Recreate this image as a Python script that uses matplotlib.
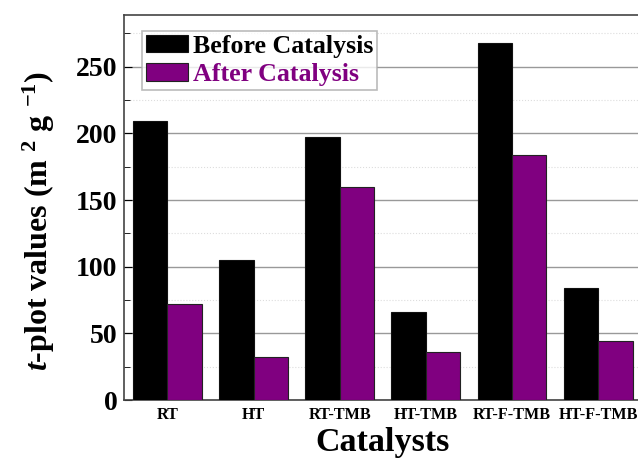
import numpy as np
import matplotlib
matplotlib.use('Agg')
import matplotlib.pyplot as plt
from matplotlib.ticker import MultipleLocator

catalysts = ['RT', 'HT', 'RT-TMB', 'HT-TMB', 'RT-F-TMB', 'HT-F-TMB']
before = [209, 105, 197, 66, 268, 84]
after = [72, 32, 160, 36, 184, 44]

plt.rcParams['font.family'] = 'Liberation Serif'
plt.rcParams['font.weight'] = 'bold'
plt.rcParams['mathtext.fontset'] = 'custom'
plt.rcParams['mathtext.rm'] = 'Liberation Serif:bold'
plt.rcParams['mathtext.it'] = 'Liberation Serif:bold:italic'
plt.rcParams['mathtext.bf'] = 'Liberation Serif:bold'

fig = plt.figure(figsize=(6.38, 4.63), dpi=100)
ax = fig.add_axes([0.195, 0.136, 0.81, 0.832])

x = np.arange(len(catalysts))
w = 0.4
ax.bar(x - w / 2, before, w, color='black', edgecolor='#111111', linewidth=0.8,
       label='Before Catalysis', zorder=3)
ax.bar(x + w / 2, after, w, color='#800080', edgecolor='#222222', linewidth=0.8,
       label='After Catalysis', zorder=3)

ax.set_xlim(-0.5, 5.5)
ax.set_ylim(0, 289)
ax.yaxis.set_major_locator(MultipleLocator(50))
ax.yaxis.set_minor_locator(MultipleLocator(25))
ax.grid(axis='y', which='major', color='#999999', linewidth=1.0, zorder=0)
ax.grid(axis='y', which='minor', color='#dddddd', linewidth=0.8, linestyle=':', zorder=0)

ax.set_xticks(x)
ax.set_xticklabels(catalysts, fontsize=11.6, fontweight='bold')
ax.tick_params(axis='x', length=0, pad=5)
ax.tick_params(axis='y', which='major', direction='in', length=6, labelsize=20, pad=5)
ax.tick_params(axis='y', which='minor', direction='in', length=4)

for s in ax.spines.values():
    s.set_color('#444444')
    s.set_linewidth(1.2)

ax.set_xlabel('Catalysts', fontsize=24.5, fontweight='bold', labelpad=3)
ax.set_ylabel(r'$\it{t}$-plot values (m $^{2}$ g $^{-1}$)',
              fontsize=23, fontweight='bold')
ax.yaxis.set_label_coords(-0.13, 0.465)

leg = ax.legend(loc='upper left', bbox_to_anchor=(0.035, 0.958),
                prop={'weight': 'bold', 'size': 18.6}, frameon=True, fancybox=False,
                edgecolor='#aaaaaa', handlelength=1.6, handleheight=0.65,
                borderpad=0.15, labelspacing=0.2, handletextpad=0.2,
                borderaxespad=0.0)
leg.get_frame().set_linewidth(1.2)
leg.get_texts()[1].set_color('#800080')

fig.savefig('out.png', dpi=100)
